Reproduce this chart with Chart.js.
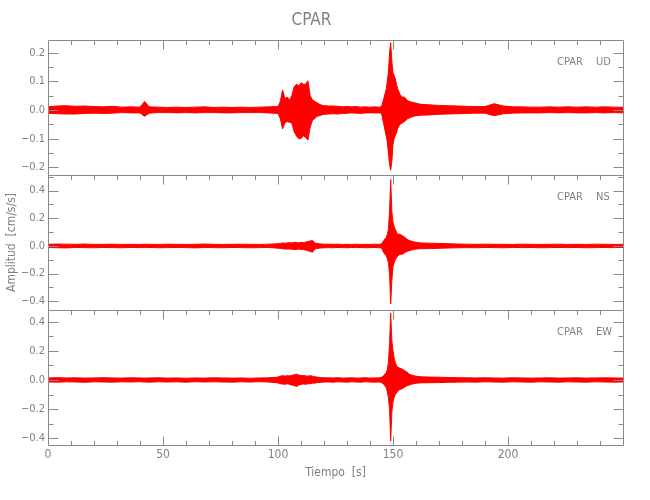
<!DOCTYPE html>
<html>
<head>
<meta charset="utf-8">
<title>CPAR</title>
<script src="https://cdn.jsdelivr.net/npm/chart.js@4.4.0/dist/chart.umd.min.js"></script>
<style>
  body { margin: 0; background: #fff; }
  #wrap { width: 650px; height: 500px; }
</style>
</head>
<body>
<div id="wrap"><canvas id="sismo" width="650" height="500"></canvas></div>
<script>
// instantes (s) donde se leyo la envolvente de cada traza
const tiempos = [
  0, 4, 8, 12, 16, 20, 24, 28, 32, 36, 40, 42, 44, 48, 52, 56, 60, 64, 68, 72, 76, 80, 84, 88, 92, 96,
  100, 101, 102, 103, 104, 105, 106, 107, 108, 109, 110, 111, 112, 113, 114, 115, 116, 117, 118, 119, 120,
  122, 124, 126, 128, 130, 132, 134, 136, 138, 140, 142, 144,
  145, 146, 147,
  147.5, 148, 148.5, 149, 149.5, 150, 150.5, 151, 151.5, 152,
  153, 154, 155, 156, 157, 158, 159, 160,
  162, 166, 170, 174, 178, 182, 186, 190, 194, 198, 202, 206, 210, 214, 218, 222, 226, 230, 234, 238, 242, 246, 250
];

// componente UD (cm/s/s), maximo y minimo en cada instante
const udMax = [
  0.011, 0.014, 0.015, 0.013, 0.014, 0.012, 0.011, 0.013, 0.01, 0.011, 0.01, 0.03, 0.011, 0.01, 0.009, 0.01, 0.009, 0.01, 0.011, 0.009, 0.01, 0.009, 0.01, 0.009, 0.01, 0.011,
  0.012, 0.03, 0.07, 0.04, 0.045, 0.035, 0.05, 0.08, 0.09, 0.085, 0.095, 0.09, 0.09, 0.102, 0.05, 0.035, 0.03, 0.025, 0.02, 0.017, 0.015,
  0.014, 0.014, 0.013, 0.011, 0.012, 0.011, 0.012, 0.01, 0.011, 0.01, 0.011, 0.01,
  0.012, 0.04, 0.07,
  0.1, 0.13, 0.2, 0.235, 0.17, 0.13, 0.12, 0.11, 0.09, 0.075,
  0.055, 0.045, 0.045, 0.035, 0.03, 0.028, 0.026, 0.024,
  0.02, 0.018, 0.016, 0.015, 0.014, 0.013, 0.012, 0.012, 0.022, 0.014, 0.011, 0.011, 0.01, 0.01, 0.011, 0.01, 0.011, 0.01, 0.011, 0.01, 0.011, 0.01, 0.01
];
const udMin = [
  -0.011, -0.013, -0.014, -0.014, -0.012, -0.011, -0.012, -0.011, -0.009, -0.01, -0.01, -0.022, -0.011, -0.009, -0.009, -0.01, -0.009, -0.01, -0.009, -0.009, -0.01, -0.01, -0.009, -0.009, -0.009, -0.01,
  -0.012, -0.03, -0.066, -0.045, -0.04, -0.043, -0.045, -0.075, -0.09, -0.1, -0.1, -0.09, -0.095, -0.105, -0.06, -0.035, -0.03, -0.022, -0.02, -0.017, -0.015,
  -0.014, -0.013, -0.014, -0.012, -0.011, -0.01, -0.011, -0.012, -0.01, -0.01, -0.01, -0.01,
  -0.012, -0.05, -0.09,
  -0.11, -0.15, -0.19, -0.21, -0.18, -0.12, -0.1, -0.09, -0.08, -0.065,
  -0.05, -0.045, -0.04, -0.032, -0.028, -0.025, -0.022, -0.02,
  -0.018, -0.017, -0.015, -0.014, -0.013, -0.012, -0.011, -0.011, -0.02, -0.013, -0.011, -0.01, -0.01, -0.01, -0.009, -0.01, -0.009, -0.01, -0.01, -0.009, -0.01, -0.009, -0.01
];

// componente NS
const nsMax = [
  0.012, 0.014, 0.013, 0.012, 0.014, 0.011, 0.012, 0.013, 0.011, 0.012, 0.011, 0.013, 0.012, 0.011, 0.013, 0.012, 0.011, 0.012, 0.014, 0.012, 0.011, 0.012, 0.013, 0.012, 0.011, 0.013,
  0.016, 0.018, 0.022, 0.02, 0.022, 0.024, 0.022, 0.026, 0.025, 0.022, 0.026, 0.024, 0.028, 0.032, 0.036, 0.04, 0.022, 0.018, 0.016, 0.014, 0.013,
  0.013, 0.012, 0.013, 0.011, 0.012, 0.011, 0.013, 0.011, 0.012, 0.011, 0.013, 0.012,
  0.014, 0.04, 0.06,
  0.08, 0.12, 0.25, 0.48, 0.25, 0.17, 0.14, 0.12, 0.1, 0.085,
  0.085, 0.075, 0.065, 0.05, 0.04, 0.035, 0.03, 0.026,
  0.022, 0.02, 0.018, 0.016, 0.014, 0.013, 0.012, 0.013, 0.012, 0.012, 0.011, 0.013, 0.012, 0.011, 0.012, 0.013, 0.011, 0.012, 0.011, 0.013, 0.012, 0.011, 0.012
];
const nsMin = [
  -0.012, -0.013, -0.014, -0.011, -0.012, -0.013, -0.011, -0.012, -0.013, -0.011, -0.012, -0.012, -0.011, -0.013, -0.012, -0.011, -0.012, -0.014, -0.011, -0.012, -0.013, -0.011, -0.012, -0.013, -0.012, -0.011,
  -0.016, -0.018, -0.02, -0.022, -0.022, -0.022, -0.024, -0.025, -0.026, -0.022, -0.025, -0.026, -0.03, -0.035, -0.04, -0.045, -0.022, -0.018, -0.016, -0.014, -0.013,
  -0.012, -0.013, -0.011, -0.012, -0.013, -0.011, -0.012, -0.011, -0.013, -0.012, -0.011, -0.013,
  -0.014, -0.05, -0.07,
  -0.09, -0.12, -0.2, -0.42, -0.25, -0.15, -0.12, -0.1, -0.085, -0.075,
  -0.06, -0.06, -0.05, -0.04, -0.035, -0.03, -0.026, -0.022,
  -0.02, -0.019, -0.017, -0.015, -0.013, -0.012, -0.013, -0.011, -0.012, -0.013, -0.011, -0.012, -0.011, -0.013, -0.012, -0.011, -0.012, -0.011, -0.013, -0.012, -0.011, -0.012, -0.011
];

// componente EW
const ewMax = [
  0.014, 0.016, 0.014, 0.015, 0.013, 0.014, 0.016, 0.014, 0.013, 0.015, 0.014, 0.013, 0.014, 0.015, 0.013, 0.014, 0.012, 0.014, 0.013, 0.015, 0.014, 0.013, 0.014, 0.012, 0.014, 0.015,
  0.02, 0.026, 0.03, 0.026, 0.03, 0.028, 0.032, 0.035, 0.04, 0.035, 0.03, 0.032, 0.028, 0.026, 0.03, 0.026, 0.022, 0.02, 0.018, 0.016, 0.015,
  0.015, 0.014, 0.016, 0.013, 0.014, 0.015, 0.013, 0.014, 0.016, 0.013, 0.014, 0.015,
  0.018, 0.03, 0.05,
  0.07, 0.12, 0.25, 0.46, 0.27, 0.2, 0.15, 0.12, 0.1, 0.09,
  0.08, 0.075, 0.065, 0.055, 0.04, 0.035, 0.03, 0.026,
  0.022, 0.02, 0.019, 0.017, 0.016, 0.015, 0.014, 0.015, 0.014, 0.013, 0.015, 0.014, 0.013, 0.014, 0.015, 0.013, 0.014, 0.015, 0.013, 0.014, 0.015, 0.014, 0.013
];
const ewMin = [
  -0.014, -0.015, -0.013, -0.014, -0.016, -0.013, -0.014, -0.015, -0.013, -0.014, -0.012, -0.014, -0.015, -0.013, -0.014, -0.013, -0.015, -0.012, -0.014, -0.013, -0.014, -0.015, -0.013, -0.014, -0.012, -0.014,
  -0.02, -0.026, -0.028, -0.03, -0.026, -0.03, -0.035, -0.038, -0.045, -0.035, -0.03, -0.028, -0.03, -0.026, -0.026, -0.022, -0.022, -0.018, -0.018, -0.016, -0.014,
  -0.014, -0.015, -0.013, -0.014, -0.015, -0.013, -0.014, -0.015, -0.013, -0.014, -0.015, -0.014,
  -0.018, -0.03, -0.05,
  -0.08, -0.12, -0.2, -0.42, -0.22, -0.15, -0.12, -0.1, -0.09, -0.08,
  -0.065, -0.06, -0.05, -0.04, -0.035, -0.03, -0.026, -0.022,
  -0.02, -0.019, -0.018, -0.016, -0.015, -0.014, -0.015, -0.013, -0.014, -0.015, -0.013, -0.014, -0.015, -0.013, -0.014, -0.015, -0.013, -0.014, -0.015, -0.013, -0.014, -0.015, -0.014
];

// limites de cada panel y del eje de tiempo
const udRango = [-0.2267, 0.2442];
const nsRango = [-0.463, 0.513];
const ewRango = [-0.447, 0.481];
const tRango = [0, 250];

const fuente = "'Liberation Sans Narrow', 'DejaVu Sans Condensed', 'Liberation Sans', sans-serif";
const gris = '#8a8a8a';
const rojo = '#ff0000';

Chart.defaults.font.family = fuente;
Chart.defaults.color = '#808080';

function serie(vals) {
    return tiempos.map((t, i) => ({ x: t, y: vals[i] }));
}

function etiquetaY(mayor) {
    return function (v) {
        const n = v / mayor;
        if (Math.abs(n - Math.round(n)) > 1e-6) return '';
        return (Math.round(n) * mayor).toFixed(1).replace('-', '\u2212');
    };
}

function ejeY(rango, menor, mayor, extra) {
    const eje = {
        type: 'linear',
        position: 'left',
        stack: 'sismo',
        stackWeight: 1,
        min: rango[0],
        max: rango[1],
        border: { display: false },
        grid: { display: false, drawTicks: false },
        ticks: {
            stepSize: menor,
            includeBounds: false,
            maxTicksLimit: 60,
            autoSkip: false,
            padding: 3,
            font: { size: 11 },
            callback: etiquetaY(mayor)
        },
        afterFit: s => { s.width = 48; }
    };
    return Object.assign(eje, extra || {});
}

// paneles de arriba a abajo
const paneles = [
    { eje: 'yUD', menor: 0.05, mayor: 0.1, nombre: 'UD' },
    { eje: 'yNS', menor: 0.1, mayor: 0.2, nombre: 'NS' },
    { eje: 'yEW', menor: 0.1, mayor: 0.2, nombre: 'EW' }
];

function traza(vMax, vMin, eje) {
    return [
        {
            data: serie(vMax), yAxisID: eje, borderColor: rojo, backgroundColor: rojo,
            borderWidth: 1, pointRadius: 0, fill: '+1'
        },
        {
            data: serie(vMin), yAxisID: eje, borderColor: rojo, backgroundColor: rojo,
            borderWidth: 1, pointRadius: 0, fill: false
        }
    ];
}

// marco de cada panel con marcas hacia adentro y rotulo de estacion
const marco = {
    id: 'marco',
    afterDatasetsDraw(chart) {
        const ctx = chart.ctx;
        const area = chart.chartArea;
        const sx = chart.scales.x;
        const l = Math.round(area.left) + 0.5;
        const r = Math.round(area.right) + 0.5;
        ctx.save();
        ctx.strokeStyle = gris;
        ctx.lineWidth = 1;
        paneles.forEach((p, k) => {
            const sy = chart.scales[p.eje];
            const arriba = Math.round(sy.top) + 0.5;
            const abajo = Math.round(sy.bottom) + 0.5;
            ctx.beginPath();
            ctx.rect(l, arriba, r - l, abajo - arriba);
            sy.ticks.forEach(tk => {
                const n = tk.value / p.menor;
                if (Math.abs(n - Math.round(n)) > 1e-6) return;
                const m = tk.value / p.mayor;
                const largo = Math.abs(m - Math.round(m)) < 1e-6 ? 10 : 5;
                const y = Math.round(sy.getPixelForValue(tk.value)) + 0.5;
                if (y <= arriba + 1 || y >= abajo - 1) return;
                ctx.moveTo(l, y); ctx.lineTo(l + largo, y);
                ctx.moveTo(r, y); ctx.lineTo(r - largo, y);
            });
            sx.ticks.forEach(tk => {
                const n = Math.round(tk.value);
                if (Math.abs(tk.value - n) > 1e-6 || n % 10 !== 0) return;
                const largo = n % 50 === 0 ? 9 : 4.5;
                const x = Math.round(sx.getPixelForValue(tk.value)) + 0.5;
                if (x <= l + 1 || x >= r - 1) return;
                ctx.moveTo(x, arriba); ctx.lineTo(x, arriba + largo);
                if (k === paneles.length - 1) {
                    ctx.moveTo(x, abajo); ctx.lineTo(x, abajo - largo);
                }
            });
            ctx.stroke();

            ctx.fillStyle = '#808080';
            ctx.font = '11px ' + fuente;
            ctx.textBaseline = 'middle';
            ctx.textAlign = 'left';
            ctx.fillText('CPAR', area.right - 66, sy.top + 22.5);
            ctx.fillText(p.nombre, area.right - 27, sy.top + 22.5);
        });
        ctx.restore();
    }
};

const ctx = document.getElementById('sismo');
new Chart(ctx, {
    type: 'line',
    data: {
        datasets: [
            ...traza(ewMax, ewMin, 'yEW'),
            ...traza(nsMax, nsMin, 'yNS'),
            ...traza(udMax, udMin, 'yUD')
        ]
    },
    options: {
        responsive: false,
        animation: false,
        devicePixelRatio: 1,
        layout: { padding: { left: 0, right: 27, top: 0, bottom: 0 } },
        elements: { line: { tension: 0 } },
        plugins: {
            legend: { display: false },
            tooltip: { enabled: false },
            title: {
                display: true,
                text: 'CPAR',
                color: '#808080',
                font: { size: 17, weight: 'normal' },
                padding: { top: 10, bottom: 9.6 }
            }
        },
        scales: {
            x: {
                type: 'linear',
                min: tRango[0],
                max: tRango[1],
                border: { display: false },
                grid: { display: false, drawTicks: false },
                ticks: {
                    stepSize: 10,
                    includeBounds: false,
                    maxTicksLimit: 60,
                    autoSkip: false,
                    maxRotation: 0,
                    padding: 3,
                    font: { size: 12 },
                    callback: v => (v % 50 === 0 && v < 250) ? String(v) : ''
                },
                title: {
                    display: true,
                    text: 'Tiempo  [s]',
                    font: { size: 12 },
                    padding: { top: 0, bottom: 20 }
                },
                afterFit: s => { s.height = 55; }
            },
            yEW: ejeY(ewRango, 0.1, 0.2),
            yNS: ejeY(nsRango, 0.1, 0.2, {
                title: {
                    display: true,
                    text: 'Amplitud  [cm/s/s]',
                    font: { size: 12 },
                    padding: { top: 5, bottom: 0 }
                }
            }),
            yUD: ejeY(udRango, 0.05, 0.1)
        }
    },
    plugins: [marco]
});
</script>
</body>
</html>
